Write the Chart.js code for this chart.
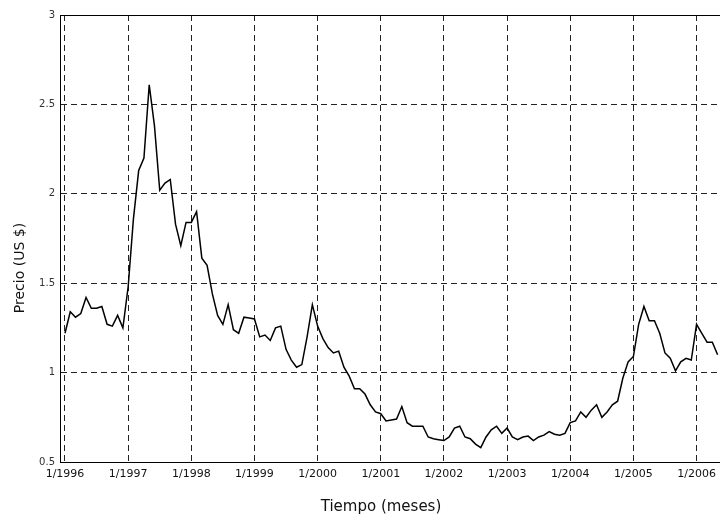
<!DOCTYPE html>
<html>
<head>
<meta charset="utf-8">
<script src="https://cdn.jsdelivr.net/npm/chart.js@4/dist/chart.umd.min.js"></script>
<style>
  html, body { margin: 0; padding: 0; background: #fff; overflow: hidden; }
  #wrap { width: 722px; height: 517px; }
</style>
</head>
<body>
<div id="wrap"><canvas id="c" width="722" height="517"></canvas></div>
<script>
// Precio mensual (US $), desde 1/1996
const precio = [
  1.22, 1.34, 1.31, 1.33, 1.42, 1.36, 1.36, 1.37, 1.27, 1.26, 1.32, 1.25,   // 1996
  1.48, 1.86, 2.13, 2.20, 2.61, 2.38, 2.02, 2.06, 2.08, 1.83, 1.71, 1.84,   // 1997
  1.84, 1.90, 1.64, 1.60, 1.44, 1.32, 1.27, 1.38, 1.24, 1.22, 1.31, 1.305,  // 1998
  1.30, 1.20, 1.21, 1.18, 1.25, 1.26, 1.13, 1.07, 1.03, 1.045, 1.20, 1.38,  // 1999
  1.26, 1.19, 1.14, 1.11, 1.12, 1.03, 0.98, 0.91, 0.91, 0.88, 0.82, 0.78,   // 2000
  0.77, 0.73, 0.735, 0.74, 0.81, 0.72, 0.70, 0.70, 0.70, 0.64, 0.63, 0.625, // 2001
  0.62, 0.64, 0.69, 0.70, 0.64, 0.63, 0.60, 0.58, 0.64, 0.68, 0.70, 0.66,   // 2002
  0.69, 0.64, 0.625, 0.64, 0.645, 0.62, 0.64, 0.65, 0.67, 0.655, 0.65, 0.66,// 2003
  0.72, 0.73, 0.78, 0.75, 0.79, 0.82, 0.75, 0.78, 0.82, 0.84, 0.97, 1.06,   // 2004
  1.09, 1.27, 1.37, 1.29, 1.29, 1.22, 1.11, 1.08, 1.01, 1.06, 1.08, 1.07,   // 2005
  1.27, 1.22, 1.17, 1.17, 1.10                                              // 2006
];
// Etiquetas del eje X (una por año, cada 12 meses)
const etiquetasX = ['1/1996','1/1997','1/1998','1/1999','1/2000','1/2001','1/2002','1/2003','1/2004','1/2005','1/2006'];
// Marcas del eje Y
const ticksY = [0.5, 1, 1.5, 2, 2.5, 3];
const tituloX = 'Tiempo (meses)';
const tituloY = 'Precio (US $)';

const xMin = -0.95, xMax = 124.3;

const puntos = precio.map((v, i) => ({ x: i, y: v }));

const titulos = {
  id: 'titulos',
  afterDraw(chart) {
    const ctx = chart.ctx;
    ctx.save();
    ctx.fillStyle = '#111';
    ctx.textAlign = 'center';
    ctx.textBaseline = 'middle';
    ctx.font = '15px "DejaVu Sans"';
    ctx.fillText(tituloX, 381, 507);
    ctx.translate(20, 268);
    ctx.rotate(-Math.PI / 2);
    ctx.font = '14px "DejaVu Sans"';
    ctx.fillText(tituloY, 0, 0);
    ctx.restore();
  }
};

new Chart(document.getElementById('c'), {
  type: 'line',
  data: {
    datasets: [{
      data: puntos,
      borderColor: '#000',
      borderWidth: 1.5,
      pointRadius: 0,
      tension: 0,
      fill: false
    }]
  },
  options: {
    responsive: false,
    animation: false,
    events: [],
    layout: { padding: { top: 15, right: 0, bottom: 0, left: 0 } },
    plugins: { legend: { display: false }, tooltip: { enabled: false } },
    scales: {
      x: {
        type: 'linear',
        position: 'bottom',
        min: xMin,
        max: xMax,
        afterBuildTicks: s => { s.ticks = etiquetasX.map((_, i) => ({ value: i * 12 })); },
        afterFit: s => { s.height = 55; },
        ticks: {
          autoSkip: false,
          maxRotation: 0,
          padding: 6,
          color: '#111',
          font: { family: 'DejaVu Sans', size: 11 },
          callback: v => etiquetasX[Math.round(v / 12)]
        },
        grid: { display: true, color: '#222', lineWidth: 1, drawTicks: false },
        border: { display: true, color: '#000', width: 1, dash: [6, 4] }
      },
      xTop: {
        type: 'linear',
        position: 'top',
        min: xMin,
        max: xMax,
        afterFit: s => { s.height = 0; },
        ticks: { display: false },
        grid: { display: false, drawTicks: false },
        border: { display: true, color: '#000', width: 1 }
      },
      y: {
        type: 'linear',
        position: 'left',
        min: 0.5,
        max: 3,
        afterBuildTicks: s => { s.ticks = ticksY.map(v => ({ value: v })); },
        afterFit: s => { s.width = 60; },
        ticks: {
          padding: 5,
          color: '#333',
          font: { family: 'DejaVu Sans', size: 10 },
          callback: v => String(v)
        },
        grid: { display: true, color: '#222', lineWidth: 1, drawTicks: false },
        border: { display: true, color: '#000', width: 1, dash: [6, 4] }
      }
    }
  },
  plugins: [titulos]
});
</script>
</body>
</html>
